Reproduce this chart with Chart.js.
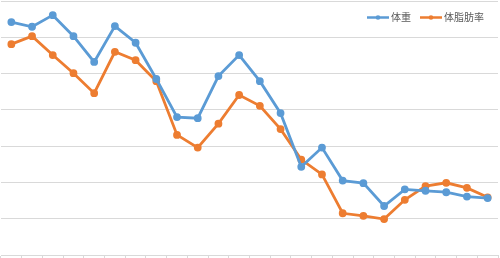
<!DOCTYPE html>
<html>
<head>
<meta charset="utf-8">
<script src="https://cdn.jsdelivr.net/npm/chart.js@4/dist/chart.umd.min.js"></script>
<style>
  html, body { margin: 0; padding: 0; background: #fff; }
  #wrap { width: 500px; height: 258px; }
</style>
</head>
<body>
<div id="wrap"><canvas id="graph"></canvas></div>
<script>
var labels = ['1','2','3','4','5','6','7','8','9','10','11','12',
              '13','14','15','16','17','18','19','20','21','22','23','24'];
var weight = [6.42, 6.29, 6.61, 6.03, 5.32, 6.31, 5.85, 4.85, 3.80, 3.77, 4.93, 5.51,
              4.79, 3.91, 2.43, 2.96, 2.05, 1.98, 1.35, 1.81, 1.77, 1.73, 1.61, 1.57];
var fat    = [5.81, 6.03, 5.51, 5.01, 4.46, 5.60, 5.37, 4.79, 3.31, 2.96, 3.62, 4.41,
              4.11, 3.47, 2.63, 2.22, 1.15, 1.08, 0.99, 1.52, 1.90, 1.99, 1.85, 1.59];
var seriesNames = ['体重', '体脂肪率'];

var BLUE = '#5B9BD5', ORANGE = '#ED7D31';

// 凡例（グラフ内の右上に描く）
var insideLegend = {
  id: 'insideLegend',
  afterDraw: function(chart) {
    var ctx = chart.ctx;
    var area = chart.chartArea;
    var y = area.top + 16.5;
    var x = area.left + 366;
    ctx.save();
    ctx.font = '10px "Noto Sans CJK JP", "Noto Sans", sans-serif';
    ctx.textBaseline = 'middle';
    chart.data.datasets.forEach(function(ds) {
      ctx.strokeStyle = ds.borderColor;
      ctx.lineWidth = 2.5;
      ctx.beginPath();
      ctx.moveTo(x, y);
      ctx.lineTo(x + 22, y);
      ctx.stroke();
      ctx.fillStyle = ds.borderColor;
      ctx.beginPath();
      ctx.arc(x + 11, y, 2.3, 0, Math.PI * 2);
      ctx.fill();
      ctx.fillStyle = '#595959';
      ctx.fillText(ds.label, x + 24, y);
      x += 24 + ctx.measureText(ds.label).width + 9;
    });
    ctx.restore();
  }
};

window.onload = function() {
  var ctx = document.getElementById('graph').getContext('2d');
  new Chart(ctx, {
    type: 'line',
    data: {
      labels: labels,
      datasets: [
        { label: seriesNames[0], data: weight,
          borderColor: BLUE, backgroundColor: BLUE,
          pointBackgroundColor: BLUE, pointBorderColor: BLUE,
          borderWidth: 2.8, pointRadius: 2.5, tension: 0 },
        { label: seriesNames[1], data: fat,
          borderColor: ORANGE, backgroundColor: ORANGE,
          pointBackgroundColor: ORANGE, pointBorderColor: ORANGE,
          borderWidth: 2.8, pointRadius: 2.5, tension: 0 }
      ]
    },
    options: {
      responsive: true,
      maintainAspectRatio: false,
      animation: false,
      layout: { autoPadding: false, padding: { left: 1, right: 2, top: 1, bottom: 0 } },
      plugins: { legend: { display: false }, tooltip: { enabled: false } },
      scales: {
        x: {
          offset: true,
          afterFit: function(s) { s.height = 3; },
          grid: { offset: true, drawOnChartArea: false, drawTicks: true,
                  tickLength: 3, color: '#D9D9D9' },
          border: { color: '#D9D9D9' },
          ticks: { display: false }
        },
        y: {
          min: 0, max: 7,
          afterFit: function(s) { s.width = 0; },
          ticks: { display: false, stepSize: 1 },
          grid: { color: '#D9D9D9', drawTicks: false },
          border: { display: false }
        }
      }
    },
    plugins: [insideLegend]
  });
};
</script>
</body>
</html>
